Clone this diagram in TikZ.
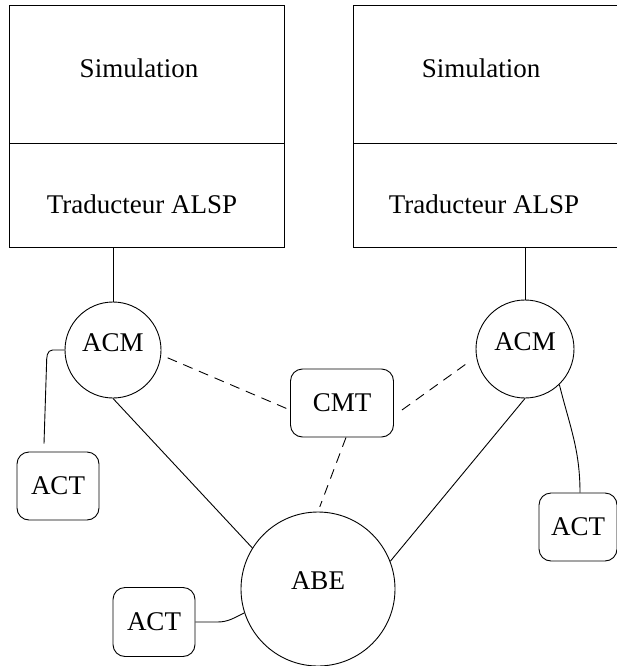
\documentclass[tikz,border=0pt]{standalone}
\usepackage{fontspec}
\setmainfont{Liberation Serif}
\begin{document}
\begin{tikzpicture}[x=1pt,y=-1pt,line width=0.9pt,
  every node/.style={font=\fontsize{27}{32}\selectfont},
  rbox/.style={draw,rounded corners=12pt,inner sep=0pt,minimum height=68pt},
  circ/.style={draw,circle,inner sep=0pt,text height=18pt,text depth=16pt},
  dline/.style={dash pattern=on 10pt off 7pt},
  plain/.style={draw,inner sep=0pt,anchor=north west}]
\useasboundingbox (0,0) rectangle (617,666);
\begin{scope}
\clip (0,0) rectangle (617,666);
% boxes
\node[plain,minimum width=275pt,minimum height=138pt] (simL) at (9,5) {};
\node[plain,minimum width=275pt,minimum height=104pt] (traL) at (9,143) {};
\node[plain,minimum width=275pt,minimum height=138pt] (simR) at (353,5) {};
\node[plain,minimum width=275pt,minimum height=104pt] (traR) at (353,143) {};
\node (tsimL) at (139,68) {Simulation};
\node (ttraL) at (142,204) {Traducteur ALSP};
\node (tsimR) at (481,68) {Simulation};
\node (ttraR) at (484,204) {Traducteur ALSP};
% circles
\node[circ,minimum size=96pt] (acmL) at (113,350) {ACM};
\node[circ,minimum size=98pt] (acmR) at (525,349) {ACM};
\node[circ,minimum size=154pt,text depth=18pt] (abe) at (318,589) {ABE};
% rounded boxes
\node[rbox,minimum width=103pt] (cmt) at (342,403) {CMT};
\node[rbox,minimum width=82pt] (actL) at (58,486) {ACT};
\node[rbox,minimum width=78pt] (actR) at (578,527) {ACT};
\node[rbox,minimum width=82pt,minimum height=69pt] (actB) at (154,622) {ACT};
% connectors
\draw (traL.south -| acmL) -- (acmL.north);
\draw (traR.south -| acmR) -- (acmR.north);
\draw (acmL.west) -- ++(-12,0) to[out=180,in=90] ++(-6,14) -- ([xshift=-14pt,yshift=8pt]actL.north);
\draw (acmL.south) -- (abe.148);
\draw (acmR.south) -- (abe.21);
\draw (acmR.-46) to[out=-76,in=90] ([xshift=2pt]actR.north);
\draw (actB.east) -- ++(22,0) to[out=0,in=205] (abe.198);
\draw[dline,shorten <=7pt] (acmL.-6) -- ([yshift=-7pt]cmt.west);
\draw[dline,shorten >=10pt] ([xshift=8pt,yshift=-7pt]cmt.east) -- (acmR.189);
\draw[dline,shorten >=5pt] ([xshift=4pt]cmt.south) -- (abe.north);
\end{scope}
\end{tikzpicture}
\end{document}
